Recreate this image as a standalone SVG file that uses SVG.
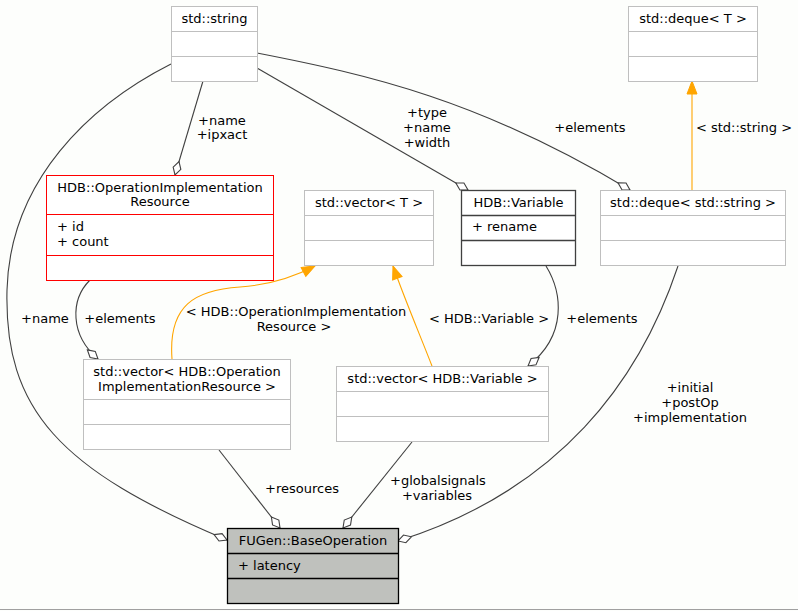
<svg xmlns="http://www.w3.org/2000/svg" width="798" height="611" viewBox="0 0 798 611">
<style>
text{font-family:"DejaVu Sans","Liberation Sans",sans-serif;font-size:13px;fill:#000}
.c{text-anchor:middle}
.box{fill:#fff;stroke:#bfbfbf;stroke-width:1}
.sep{stroke:#bfbfbf;stroke-width:1}
.red{fill:#fff;stroke:#ff0000}
.redsep{stroke:#ff0000}
.blk{fill:#fff;stroke:#404040;stroke-width:1.3}
.blksep{stroke:#404040;stroke-width:1.3}
.e{fill:none;stroke:#404040;stroke-width:1.1;marker-end:url(#dia)}
.o{fill:none;stroke:#ffa500;stroke-width:1.1;marker-end:url(#arr)}
</style>
<defs>
<marker id="dia" markerUnits="userSpaceOnUse" markerWidth="18" markerHeight="10" viewBox="-16 -5 17 10" refX="0" refY="0" orient="auto" overflow="visible">
<path d="M-14,0 L-7,-4 L0,0 L-7,4 Z" fill="#fff" stroke="#404040" stroke-width="1.1"/>
</marker>
<marker id="arr" markerUnits="userSpaceOnUse" markerWidth="16" markerHeight="12" viewBox="-15 -6 16 12" refX="0" refY="0" orient="auto" overflow="visible">
<path d="M-13,-5 L0,0 L-13,5 Z" fill="#ffa500" stroke="#ffa500" stroke-width="1"/>
</marker>
</defs>
<rect x="0" y="0" width="798" height="611" fill="#fdfefc"/>
<line x1="0" y1="609.5" x2="798" y2="609.5" stroke="#a0a0a0" stroke-width="1"/>

<g id="edges">
<path class="e" d="M171,64 C 90,105 10,180 7,290 C 4,410 60,470 227,540"/>
<path class="e" d="M203,81 L175,175"/>
<path class="e" d="M257,68 L468,190"/>
<path class="e" d="M257,53 C 370,75 480,100 630,190"/>
<path class="o" d="M692,190 L692,81"/>
<path class="e" d="M90,280 C 70,300 70,335 98,359"/>
<path class="o" d="M172,359 C 168,305 195,290 240,287 C 270,285 292,278 315,266"/>
<path class="o" d="M432,366 C 420,335 405,300 393,266"/>
<path class="e" d="M546,266 C 562,292 568,335 528,366"/>
<path class="e" d="M678,266 C 640,380 560,490 398,541"/>
<path class="e" d="M219,450 L280,528"/>
<path class="e" d="M412,442 L343,528"/>
</g>

<g id="edge-labels">
<text class="c" x="45" y="323">+name</text>
<text class="c" x="222" y="125">+name</text>
<text class="c" x="222" y="139">+ipxact</text>
<text class="c" x="427" y="117">+type</text>
<text class="c" x="427" y="132">+name</text>
<text class="c" x="427" y="147">+width</text>
<text class="c" x="590" y="132">+elements</text>
<text class="c" x="744" y="132">&lt; std::string &gt;</text>
<text class="c" x="120" y="323">+elements</text>
<text class="c" x="296" y="316">&lt; HDB::OperationImplementation</text>
<text class="c" x="294" y="331">Resource &gt;</text>
<text class="c" x="489" y="323">&lt; HDB::Variable &gt;</text>
<text class="c" x="602" y="323">+elements</text>
<text class="c" x="690" y="392">+initial</text>
<text class="c" x="690" y="407">+postOp</text>
<text class="c" x="690" y="422">+implementation</text>
<text class="c" x="302" y="493">+resources</text>
<text class="c" x="438" y="485">+globalsignals</text>
<text class="c" x="437" y="500">+variables</text>
</g>

<g id="std-string">
<rect class="box" x="171.5" y="6.5" width="86" height="75"/>
<line class="sep" x1="171.5" y1="31.5" x2="257.5" y2="31.5"/>
<line class="sep" x1="171.5" y1="56.5" x2="257.5" y2="56.5"/>
<text class="c" x="214.5" y="23">std::string</text>
</g>

<g id="std-deque-T">
<rect class="box" x="628.5" y="6.5" width="129" height="75"/>
<line class="sep" x1="628.5" y1="31.5" x2="757.5" y2="31.5"/>
<line class="sep" x1="628.5" y1="56.5" x2="757.5" y2="56.5"/>
<text class="c" x="693" y="23">std::deque&lt; T &gt;</text>
</g>

<g id="hdb-oir">
<rect class="red" x="46.5" y="175.5" width="227" height="105"/>
<line class="redsep" x1="46.5" y1="214.5" x2="273.5" y2="214.5"/>
<line class="redsep" x1="46.5" y1="255.5" x2="273.5" y2="255.5"/>
<text class="c" x="160" y="192">HDB::OperationImplementation</text>
<text class="c" x="160" y="206">Resource</text>
<text x="57" y="231">+ id</text>
<text x="57" y="246">+ count</text>
</g>

<g id="std-vector-T">
<rect class="box" x="304.5" y="190.5" width="129" height="75"/>
<line class="sep" x1="304.5" y1="215.5" x2="433.5" y2="215.5"/>
<line class="sep" x1="304.5" y1="240.5" x2="433.5" y2="240.5"/>
<text class="c" x="369" y="207">std::vector&lt; T &gt;</text>
</g>

<g id="hdb-variable">
<rect class="blk" x="461.5" y="190.5" width="114" height="75"/>
<line class="blksep" x1="461.5" y1="215.5" x2="575.5" y2="215.5"/>
<line class="blksep" x1="461.5" y1="240.5" x2="575.5" y2="240.5"/>
<text class="c" x="518.5" y="207">HDB::Variable</text>
<text x="472" y="231">+ rename</text>
</g>

<g id="std-deque-string">
<rect class="box" x="600.5" y="190.5" width="185" height="75"/>
<line class="sep" x1="600.5" y1="215.5" x2="785.5" y2="215.5"/>
<line class="sep" x1="600.5" y1="240.5" x2="785.5" y2="240.5"/>
<text class="c" x="693" y="207">std::deque&lt; std::string &gt;</text>
</g>

<g id="std-vector-oir">
<rect class="box" x="83.5" y="359.5" width="207" height="90"/>
<line class="sep" x1="83.5" y1="399.5" x2="290.5" y2="399.5"/>
<line class="sep" x1="83.5" y1="424.5" x2="290.5" y2="424.5"/>
<text class="c" x="187" y="376">std::vector&lt; HDB::Operation</text>
<text class="c" x="187" y="391">ImplementationResource &gt;</text>
</g>

<g id="std-vector-variable">
<rect class="box" x="336.5" y="366.5" width="212" height="75"/>
<line class="sep" x1="336.5" y1="391.5" x2="548.5" y2="391.5"/>
<line class="sep" x1="336.5" y1="416.5" x2="548.5" y2="416.5"/>
<text class="c" x="442.5" y="383">std::vector&lt; HDB::Variable &gt;</text>
</g>

<g id="fugen-baseoperation">
<rect x="227.5" y="528.5" width="171" height="75" fill="#bfc1bd" stroke="#000" stroke-width="1.3"/>
<line x1="227.5" y1="553.5" x2="398.5" y2="553.5" stroke="#000" stroke-width="1.3"/>
<line x1="227.5" y1="578.5" x2="398.5" y2="578.5" stroke="#000" stroke-width="1.3"/>
<text class="c" x="313" y="545">FUGen::BaseOperation</text>
<text x="238" y="570">+ latency</text>
</g>
</svg>
